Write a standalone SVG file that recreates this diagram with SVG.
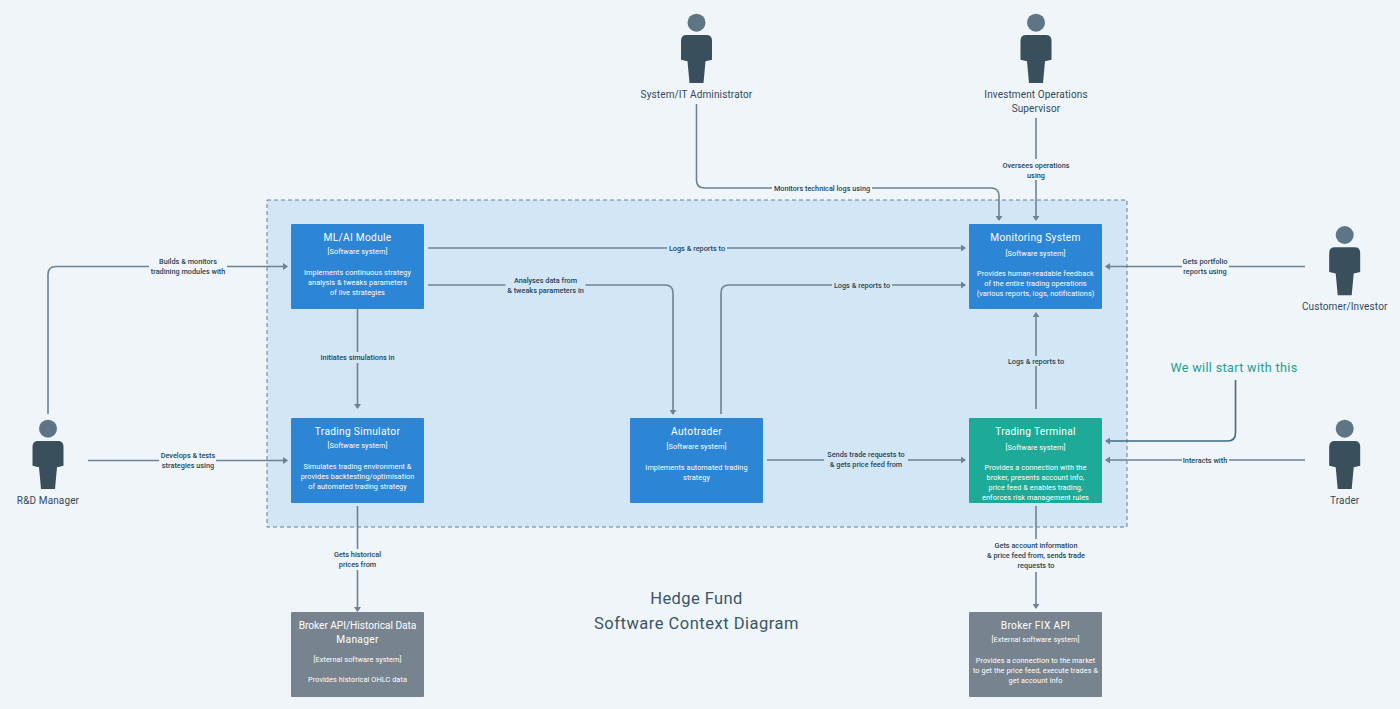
<svg xmlns="http://www.w3.org/2000/svg" width="1400" height="709" viewBox="0 0 1400 709">
<style>
text{font-family:"Roboto","Liberation Sans",sans-serif;text-anchor:middle}
.t{font-size:10.200px;fill:#fff;letter-spacing:.3px}
.s{font-size:7.300px;fill:#fff;letter-spacing:.08px}
.l{font-size:7.300px;fill:#2a4557;font-weight:500}
.a{font-size:10px;fill:#2f4a5c;letter-spacing:.13px}
.c{fill:none;stroke:#6c8296;stroke-width:1.600}
.box{fill:#2d85d5}
.head{fill:#5d7585}
.body{fill:#3a4f5c}
</style>
<defs>
<marker id="arr" viewBox="0 0 5 7" refX="4" refY="3.500" markerWidth="5" markerHeight="7" markerUnits="userSpaceOnUse" orient="auto"><path d="M0 0L5 3.500L0 7Z" fill="#6c8296"/></marker>
<g id="person"><circle class="head" cx="0" cy="0" r="9"/><path class="body" d="M-10 12.300H10Q15.500 12.300 15.500 18V37L9 38.500L7 60.300H-7L-9 38.500L-15.500 37V18Q-15.500 12.300 -10 12.300Z"/></g>
</defs>
<rect width="1400" height="709" fill="#eff5f9"/>
<rect id="boundary" x="267" y="200" width="860" height="327" fill="#d2e6f5" stroke="#5a8299" stroke-width="1" stroke-dasharray="4 3"/>
<g id="connectors">
<path class="c" d="M696.500 104V180Q696.500 188 704.500 188H772"/>
<path class="c" marker-end="url(#arr)" d="M872 188H991Q999 188 999 196V220"/>
<text class="l" x="822" y="190.500">Monitors technical logs using</text>
<path class="c" d="M1036 118V159"/><path class="c" marker-end="url(#arr)" d="M1036 180V220"/>
<text class="l" x="1036" y="167.500">Oversees operations</text><text class="l" x="1036" y="177.500">using</text>
<path class="c" d="M1305 266.500H1229"/><path class="c" marker-end="url(#arr)" d="M1182 266.500H1106"/>
<text class="l" x="1205" y="264">Gets portfolio</text><text class="l" x="1205" y="274">reports using</text>
<path class="c" d="M428 248H667"/><path class="c" marker-end="url(#arr)" d="M727 248H965"/>
<text class="l" x="697" y="250.500">Logs &amp; reports to</text>
<path class="c" d="M428 285H505.500"/><path class="c" marker-end="url(#arr)" d="M585.500 285H665Q673 285 673 293V414"/>
<text class="l" x="545.500" y="282.500">Analyses data from</text><text class="l" x="545.500" y="292.500">&amp; tweaks parameters in</text>
<path class="c" d="M721 414V293Q721 285 729 285H832"/><path class="c" marker-end="url(#arr)" d="M892 285H965"/>
<text class="l" x="862" y="287.500">Logs &amp; reports to</text>
<path class="c" d="M357.500 309V352"/><path class="c" marker-end="url(#arr)" d="M357.500 363V408"/>
<text class="l" x="357.500" y="360">Initiates simulations in</text>
<path class="c" d="M357.500 506V549"/><path class="c" marker-end="url(#arr)" d="M357.500 570V611"/>
<text class="l" x="357.500" y="557">Gets historical</text><text class="l" x="357.500" y="567">prices from</text>
<path class="c" d="M767 460H824"/><path class="c" marker-end="url(#arr)" d="M908 460H965"/>
<text class="l" x="866" y="457">Sends trade requests to</text><text class="l" x="866" y="467">&amp; gets price feed from</text>
<path class="c" d="M1036 409V366"/><path class="c" marker-end="url(#arr)" d="M1036 356V313"/>
<text class="l" x="1036" y="363.500">Logs &amp; reports to</text>
<path class="c" d="M1305 460H1229"/><path class="c" marker-end="url(#arr)" d="M1182 460H1106"/>
<text class="l" x="1205" y="462.500">Interacts with</text>
<path class="c" d="M1036 506V539"/><path class="c" marker-end="url(#arr)" d="M1036 572V608"/>
<text class="l" x="1036" y="548">Gets account information</text><text class="l" x="1036" y="558">&amp; price feed from, sends trade</text><text class="l" x="1036" y="568">requests to</text>
<path class="c" d="M48 414V274.500Q48 266.500 56 266.500H149"/><path class="c" marker-end="url(#arr)" d="M227 266.500H287"/>
<text class="l" x="188" y="264">Builds &amp; monitors</text><text class="l" x="188" y="274">tradining modules with</text>
<path class="c" d="M88 460.500H159"/><path class="c" marker-end="url(#arr)" d="M216 460.500H287"/>
<text class="l" x="188" y="458">Develops &amp; tests</text><text class="l" x="188" y="468">strategies using</text>
<path fill="none" stroke="#3f6a87" stroke-width="1.600" d="M1235.500 380V433Q1235.500 441 1227.500 441H1106" marker-end="url(#arr)"/>
</g>
<g id="ml-ai"><rect class="box" x="291" y="224" width="133" height="85" rx="1"/><text class="t" x="357.500" y="241">ML/AI Module</text><text class="s" x="357.500" y="254">[Software system]</text><text class="s" x="357.500" y="274.500">Implements continuous strategy</text><text class="s" x="357.500" y="284.500">analysis &amp; tweaks parameters</text><text class="s" x="357.500" y="294.500">of live strategies</text></g>
<g id="simulator"><rect class="box" x="291" y="418" width="133" height="85" rx="1"/><text class="t" x="357.500" y="435">Trading Simulator</text><text class="s" x="357.500" y="448">[Software system]</text><text class="s" x="357.500" y="468.500">Simulates trading environment &amp;</text><text class="s" x="357.500" y="478.500">provides backtesting/optimisation</text><text class="s" x="357.500" y="488.500">of automated trading strategy</text></g>
<g id="autotrader"><rect class="box" x="630" y="418" width="133" height="85" rx="1"/><text class="t" x="696.500" y="435">Autotrader</text><text class="s" x="696.500" y="449">[Software system]</text><text class="s" x="696.500" y="469.500">Implements automated trading</text><text class="s" x="696.500" y="479.500">strategy</text></g>
<g id="monitoring"><rect class="box" x="969" y="224" width="133" height="85" rx="1"/><text class="t" x="1035.500" y="241">Monitoring System</text><text class="s" x="1035.500" y="256">[Software system]</text><text class="s" x="1035.500" y="276">Provides human-readable feedback</text><text class="s" x="1035.500" y="286">of the entire trading operations</text><text class="s" x="1035.500" y="296">(various reports, logs, notifications)</text></g>
<g id="terminal"><rect x="969" y="418" width="133" height="85" rx="1" fill="#1eaa99"/><text class="t" x="1035.500" y="435">Trading Terminal</text><text class="s" x="1035.500" y="450">[Software system]</text><text class="s" x="1035.500" y="470">Provides a connection with the</text><text class="s" x="1035.500" y="480">broker, presents account info,</text><text class="s" x="1035.500" y="490">price feed &amp; enables trading,</text><text class="s" x="1035.500" y="500">enforces risk management rules</text></g>
<g id="broker-api"><rect x="291" y="612" width="133" height="85" rx="1" fill="#77848f"/><text class="t" x="357.500" y="629" style="letter-spacing:-.05px">Broker API/Historical Data</text><text class="t" x="357.500" y="643">Manager</text><text class="s" x="357.500" y="662">[External software system]</text><text class="s" x="357.500" y="682">Provides historical OHLC data</text></g>
<g id="broker-fix"><rect x="969" y="612" width="133" height="85" rx="1" fill="#77848f"/><text class="t" x="1035.500" y="629">Broker FIX API</text><text class="s" x="1035.500" y="642">[External software system]</text><text class="s" x="1035.500" y="662.500">Provides a connection to the market</text><text class="s" x="1035.500" y="672.500">to get the price feed, execute trades &amp;</text><text class="s" x="1035.500" y="682.500">get account info</text></g>
<g id="sysadmin"><use href="#person" x="696.500" y="22.700"/><text class="a" x="696.500" y="98">System/IT Administrator</text></g>
<g id="supervisor"><use href="#person" x="1036" y="22.700"/><text class="a" x="1036" y="98">Investment Operations</text><text class="a" x="1036" y="112">Supervisor</text></g>
<g id="customer"><use href="#person" x="1344.700" y="235"/><text class="a" x="1344.700" y="310">Customer/Investor</text></g>
<g id="trader"><use href="#person" x="1344.700" y="428.700"/><text class="a" x="1344.700" y="503.500">Trader</text></g>
<g id="rd-manager"><use href="#person" x="48" y="428.700"/><text class="a" x="48" y="503.500">R&amp;D Manager</text></g>
<text id="note" x="1234" y="372" style="font-size:12.600px;fill:#1f9d93;letter-spacing:.35px">We will start with this</text>
<g id="title" style="font-size:16.500px;fill:#3a5568"><text x="696.500" y="604" style="letter-spacing:.4px">Hedge Fund</text><text x="696.500" y="628.500" style="letter-spacing:.5px">Software Context Diagram</text></g>
</svg>
